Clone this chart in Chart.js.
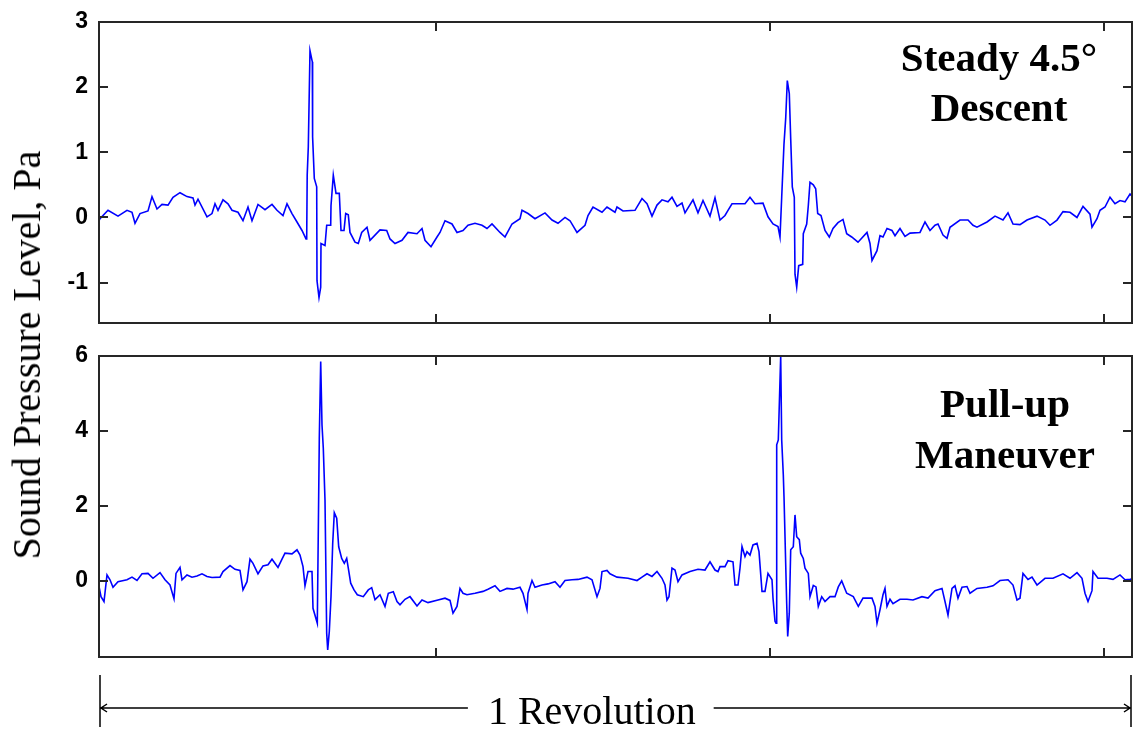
<!DOCTYPE html>
<html>
<head>
<meta charset="utf-8">
<title>Sound pressure over one revolution</title>
<script src="https://cdn.jsdelivr.net/npm/chart.js@4.4.1/dist/chart.umd.min.js"></script>
<style>
  html, body { margin: 0; padding: 0; background: #fff; }
  #wrap { position: relative; width: 1135px; height: 729px; overflow: hidden; }
  #topChart { position: absolute; left: 0; top: 0; }
  #bottomChart { position: absolute; left: 0; top: 340px; }
  #yTitle {
    position: absolute; left: 27px; top: 355px;
    transform: translate(-50%, -50%) rotate(-90deg);
    font: 40px "Liberation Serif", "Times New Roman", serif;
    line-height: 1; white-space: nowrap; color: #000;
  }
</style>
</head>
<body>
<div id="wrap">
  <canvas id="topChart" width="1135" height="340"></canvas>
  <canvas id="bottomChart" width="1135" height="389"></canvas>
  <div id="yTitle">Sound Pressure Level, Pa</div>
</div>
<script>
// samples along one revolution (arbitrary sample units)
const descentX = [
  0, 1, 9, 19, 28, 33, 36, 41, 49, 53,
  58, 63, 69, 74, 81, 88, 94, 96, 99, 108,
  113, 116, 119, 124, 129, 133, 139, 144, 149, 153,
  159, 166, 173, 178, 184, 188, 193, 198, 203, 207,
  207.7, 208.2, 209.3, 211, 213.3, 213.6, 215.3, 217.7, 218, 220,
  221.7, 222, 226, 227.7, 231.7, 232, 234.3, 237, 240.3, 242,
  245, 246.7, 249.3, 251, 256, 259.3, 262.7, 268, 271, 281,
  287.7, 291, 296, 303, 309, 318, 323, 326, 332, 338,
  341, 346, 353, 358, 364, 369, 376, 383, 388, 393,
  401, 406, 413, 421, 423, 429, 436, 446, 453, 459,
  466, 471, 478, 486, 489, 494, 503, 508, 516, 518,
  524, 536, 543, 548, 553, 558, 563, 569, 573, 578,
  583, 586, 594, 599, 604, 611, 616, 621, 626, 629,
  633, 646, 651, 656, 664, 669, 674, 679, 681, 682.7,
  685, 686.7, 688.3, 690.3, 691.7, 693.3, 695.3, 696, 697.7, 699.7,
  703.7, 704.3, 707.7, 709.3, 711, 714.3, 716.7, 718.7, 722, 726,
  730.3, 734, 739, 744, 747.7, 752.7, 759, 768, 771, 773,
  778, 781, 784, 788, 793, 796, 801, 806, 811, 821,
  826, 831, 836, 839, 844, 848, 851, 861, 869, 874,
  878, 888, 896, 904, 909, 914, 921, 928, 938, 946,
  951, 958, 964, 971, 978, 984, 991, 993, 998, 1001,
  1006, 1011, 1016, 1021, 1026, 1031, 1033
];
const descentY = [
  -0.05, -0.02, 0.11, 0.02, 0.11, 0.08, -0.09, 0.06, 0.10, 0.32,
  0.13, 0.20, 0.19, 0.31, 0.38, 0.32, 0.30, 0.19, 0.28, 0.01,
  0.06, 0.21, 0.11, 0.27, 0.21, 0.11, 0.08, -0.05, 0.16, -0.05,
  0.20, 0.12, 0.20, 0.11, 0.03, 0.21, 0.06, -0.07, -0.20, -0.33,
  -0.30, 0.65, 1.08, 2.56, 2.39, 1.24, 0.60, 0.47, -0.97, -1.23,
  -1.07, -0.40, -0.43, -0.12, -0.12, 0.18, 0.65, 0.37, 0.37, -0.20,
  -0.20, 0.06, 0.04, -0.23, -0.38, -0.40, -0.23, -0.15, -0.35, -0.19,
  -0.20, -0.33, -0.40, -0.35, -0.23, -0.25, -0.17, -0.35, -0.45, -0.30,
  -0.23, -0.05, -0.10, -0.23, -0.20, -0.12, -0.09, -0.12, -0.17, -0.10,
  -0.23, -0.30, -0.10, -0.02, 0.11, 0.06, -0.02, 0.07, -0.04, -0.09,
  0.00, -0.05, -0.23, -0.12, 0.03, 0.16, 0.08, 0.16, 0.08, 0.16,
  0.10, 0.11, 0.29, 0.21, 0.02, 0.19, 0.27, 0.24, 0.31, 0.17,
  0.22, 0.07, 0.27, 0.07, 0.26, 0.02, 0.30, -0.04, 0.03, 0.11,
  0.21, 0.21, 0.31, 0.21, 0.22, 0.01, -0.10, -0.14, -0.30, 0.31,
  1.13, 1.52, 2.10, 1.90, 1.21, 0.47, 0.31, -0.87, -1.07, -0.74,
  -0.72, -0.25, -0.10, 0.18, 0.54, 0.50, 0.44, 0.06, 0.03, -0.20,
  -0.30, -0.17, -0.08, -0.03, -0.25, -0.30, -0.38, -0.23, -0.40, -0.66,
  -0.51, -0.28, -0.30, -0.17, -0.20, -0.28, -0.17, -0.29, -0.24, -0.23,
  -0.07, -0.20, -0.12, -0.10, -0.27, -0.32, -0.15, -0.04, -0.04, -0.12,
  -0.15, -0.07, 0.02, -0.04, 0.07, -0.10, -0.11, -0.04, 0.02, -0.04,
  -0.12, -0.04, 0.09, 0.08, 0.00, 0.17, 0.05, -0.15, -0.02, 0.11,
  0.16, 0.31, 0.21, 0.26, 0.24, 0.36, 0.33
];

const pullupX = [
  0, 2, 5, 8, 11, 14, 19, 28, 33, 38,
  43, 49, 54, 61, 66, 71, 75, 77, 81, 83,
  88, 93, 98, 103, 108, 113, 121, 124, 131, 136,
  141, 144, 148, 151, 154, 159, 164, 169, 173, 179,
  183, 186, 193, 198, 201, 204, 206, 209, 213, 214,
  218.3, 220.3, 221.7, 223, 224.3, 226, 227.7, 228.7, 230.3, 232,
  233.7, 235.3, 237.7, 239.7, 242.7, 245.3, 247.7, 249.3, 251.7, 255,
  258.3, 264.3, 269.3, 272.7, 276, 281, 286, 289.3, 294.3, 298,
  301, 306, 311, 318, 323, 329, 339, 346, 351, 354,
  358, 361, 364, 368, 376, 384, 389, 396, 401, 408,
  414, 421, 424, 428, 429, 433, 436, 443, 449, 456,
  461, 466, 473, 479, 488, 493, 498, 501, 503, 508,
  511, 518, 529, 538, 543, 548, 553, 558, 563, 566,
  568, 570, 573, 576, 579, 583, 591, 599, 606, 611,
  616, 619, 621, 626, 629, 634, 636, 639, 641, 643,
  646, 648, 651, 654, 658, 660, 663, 666, 669, 673,
  674, 676, 677, 677.7, 679.3, 681.7, 682.7, 684.3, 685, 687.7,
  688.7, 690.3, 691.7, 694.3, 696, 697.7, 700.3, 701.7, 704.3, 706,
  709.3, 711, 714.3, 717, 719.3, 722.7, 726, 731, 736, 739.3,
  742.7, 747.7, 754.3, 759.3, 764, 773, 776, 778, 781, 784,
  786, 788, 791, 794, 801, 808, 814, 823, 829, 836,
  843, 846, 849, 853, 856, 859, 863, 868, 871, 878,
  888, 894, 901, 909, 914, 918, 921, 924, 929, 933,
  938, 946, 954, 964, 971, 978, 983, 986, 989, 993,
  994, 999, 1008, 1014, 1021, 1026, 1031, 1033
];
const pullupY = [
  -0.15, -0.42, -0.55, 0.16, 0.03, -0.17, -0.02, 0.03, 0.10, 0.01,
  0.19, 0.20, 0.07, 0.22, 0.03, -0.11, -0.48, 0.20, 0.36, 0.03,
  0.16, 0.10, 0.13, 0.19, 0.12, 0.09, 0.10, 0.25, 0.41, 0.31,
  0.28, -0.24, -0.02, 0.58, 0.47, 0.19, 0.40, 0.43, 0.58, 0.36,
  0.58, 0.74, 0.72, 0.83, 0.69, 0.38, -0.13, 0.25, 0.25, -0.73,
  -1.13, 3.80, 5.85, 4.16, 3.54, 2.16, -1.40, -1.84, -1.35, -0.42,
  1.00, 1.82, 1.67, 0.91, 0.60, 0.47, 0.60, 0.34, -0.06, -0.24,
  -0.37, -0.42, -0.24, -0.18, -0.50, -0.37, -0.68, -0.33, -0.29, -0.55,
  -0.64, -0.49, -0.42, -0.67, -0.51, -0.58, -0.51, -0.46, -0.52, -0.86,
  -0.68, -0.20, -0.33, -0.37, -0.33, -0.28, -0.22, -0.13, -0.28, -0.20,
  -0.22, -0.17, -0.33, -0.76, -0.33, 0.01, -0.17, -0.11, -0.08, -0.02,
  -0.17, 0.01, 0.03, 0.04, 0.10, 0.03, -0.42, -0.20, 0.25, 0.28,
  0.19, 0.10, 0.07, 0.01, 0.10, 0.19, 0.12, 0.25, 0.07, -0.11,
  -0.51, -0.42, 0.34, 0.29, -0.02, 0.16, 0.25, 0.31, 0.29, 0.51,
  0.29, 0.25, 0.38, 0.38, 0.54, 0.51, -0.11, -0.11, 0.34, 0.92,
  0.65, 0.78, 0.69, 0.96, 1.00, 0.78, -0.28, -0.28, 0.20, 0.03,
  -0.46, -1.08, -1.13, 3.63, 3.76, 6.00, 3.76, 2.83, 2.25, -0.60,
  -1.48, -0.86, 0.83, 0.91, 1.76, 1.18, 1.10, 0.74, 0.60, 0.34,
  0.20, -0.42, -0.12, -0.16, -0.68, -0.42, -0.55, -0.42, -0.42, -0.16,
  0.00, -0.33, -0.42, -0.68, -0.46, -0.46, -0.68, -1.13, -0.77, -0.37,
  -0.20, -0.68, -0.49, -0.61, -0.49, -0.49, -0.51, -0.42, -0.46, -0.26,
  -0.20, -0.55, -0.91, -0.20, -0.13, -0.46, -0.17, -0.15, -0.33, -0.20,
  -0.17, -0.13, 0.01, 0.03, -0.11, -0.51, -0.46, 0.20, 0.04, 0.10,
  -0.11, 0.07, 0.07, 0.19, 0.07, 0.22, 0.07, -0.33, -0.55, -0.26,
  0.25, 0.07, 0.07, 0.04, 0.16, 0.03, 0.04, 0.05
];

const descentTicks = [-1, 0, 1, 2, 3];
const pullupTicks = [0, 2, 4, 6];
const revTicks = [337, 671, 1005];   // unlabeled x ticks
const descentCaption = ["Steady 4.5°", "Descent"];
const pullupCaption = ["Pull-up", "Maneuver"];
const spanText = "1 Revolution";

// matlab-style box with inward ticks
const boxTicks = {
  id: "boxTicks",
  afterDatasetsDraw(chart) {
    const { ctx, chartArea: a, scales: { x, y } } = chart;
    const len = 9;
    ctx.save();
    ctx.strokeStyle = "#262626";
    ctx.lineWidth = 2;
    ctx.strokeRect(a.left, a.top, a.right - a.left, a.bottom - a.top);
    ctx.beginPath();
    y.ticks.forEach(t => {
      const py = Math.round(y.getPixelForValue(t.value));
      ctx.moveTo(a.left, py); ctx.lineTo(a.left + len, py);
      ctx.moveTo(a.right, py); ctx.lineTo(a.right - len, py);
    });
    revTicks.forEach(v => {
      const px = Math.round(x.getPixelForValue(v));
      ctx.moveTo(px, a.bottom); ctx.lineTo(px, a.bottom - len);
      ctx.moveTo(px, a.top); ctx.lineTo(px, a.top + len);
    });
    ctx.stroke();
    ctx.restore();
  }
};

// two-line bold caption in the upper right of a panel
const caption = {
  id: "caption",
  afterDraw(chart, args, o) {
    if (!o.lines) return;
    const { ctx, chartArea: a } = chart;
    ctx.save();
    ctx.font = 'bold 41px "Liberation Serif", "Times New Roman", serif';
    ctx.fillStyle = "#000";
    ctx.textAlign = "center";
    ctx.textBaseline = "alphabetic";
    o.lines.forEach((s, i) => {
      ctx.fillText(s, a.right - o.dx, a.top + o.dy + i * o.gap);
    });
    ctx.restore();
  }
};

// dimension arrow under the lower panel
const spanArrow = {
  id: "spanArrow",
  afterDraw(chart, args, o) {
    if (!o.text) return;
    const { ctx, chartArea: a, scales: { x } } = chart;
    const x0 = Math.round(x.getPixelForValue(x.min)) + 1;
    const x1 = Math.round(x.getPixelForValue(x.max)) - 1;
    const yl = a.bottom + 51;
    ctx.save();
    ctx.font = '40px "Liberation Serif", "Times New Roman", serif';
    const w = ctx.measureText(o.text).width;
    const cx = x0 + 0.477 * (x1 - x0);
    ctx.strokeStyle = "#000";
    ctx.lineWidth = 1.5;
    ctx.beginPath();
    ctx.moveTo(x0, a.bottom + 18); ctx.lineTo(x0, a.bottom + 70);
    ctx.moveTo(x1, a.bottom + 18); ctx.lineTo(x1, a.bottom + 70);
    ctx.moveTo(x0, yl); ctx.lineTo(cx - w / 2 - 20, yl);
    ctx.moveTo(cx + w / 2 + 18, yl); ctx.lineTo(x1, yl);
    ctx.moveTo(x0 + 7, yl - 4); ctx.lineTo(x0 + 1, yl); ctx.lineTo(x0 + 7, yl + 4);
    ctx.moveTo(x1 - 7, yl - 4); ctx.lineTo(x1 - 1, yl); ctx.lineTo(x1 - 7, yl + 4);
    ctx.stroke();
    ctx.fillStyle = "#000";
    ctx.textAlign = "center";
    ctx.textBaseline = "alphabetic";
    ctx.fillText(o.text, cx, a.bottom + 67);
    ctx.restore();
  }
};

function toPoints(xs, ys) {
  const n = Math.min(xs.length, ys.length);
  const pts = [];
  for (let i = 0; i < n; i++) pts.push({ x: xs[i], y: ys[i] });
  return pts;
}

function makePanel(canvasId, xs, ys, yMin, yMax, yTicks, pad, plugins) {
  return new Chart(document.getElementById(canvasId), {
    type: "line",
    data: {
      datasets: [{
        data: toPoints(xs, ys),
        borderColor: "#0000ff",
        borderWidth: 1.6,
        pointRadius: 0,
        tension: 0,
        fill: false
      }]
    },
    options: {
      responsive: false,
      animation: false,
      devicePixelRatio: 1,
      layout: { padding: pad },
      plugins: Object.assign({ legend: { display: false }, tooltip: { enabled: false } }, plugins),
      scales: {
        x: { type: "linear", min: 0, max: 1033, display: false },
        y: {
          min: yMin,
          max: yMax,
          afterBuildTicks: s => { s.ticks = yTicks.map(v => ({ value: v })); },
          afterFit: s => { s.width = 99; },
          // invisible tick marks only to push the labels off the box
          grid: { display: true, drawOnChartArea: false, drawTicks: true, tickLength: 11, tickColor: "rgba(0,0,0,0)", color: "rgba(0,0,0,0)" },
          border: { display: false },
          ticks: {
            color: "#000",
            padding: 0,
            font: { family: '"Liberation Sans", Arial, sans-serif', size: 23, weight: "bold" }
          }
        }
      }
    },
    plugins: [boxTicks, caption, spanArrow]
  });
}

makePanel("topChart", descentX, descentY, -1.62, 3, descentTicks,
  { top: 22, right: 3, bottom: 17, left: 0 },
  { caption: { lines: descentCaption, dx: 133, dy: 49, gap: 50 } });

makePanel("bottomChart", pullupX, pullupY, -2.03, 6, pullupTicks,
  { top: 16, right: 3, bottom: 72, left: 0 },
  { caption: { lines: pullupCaption, dx: 127, dy: 61, gap: 51 },
    spanArrow: { text: spanText } });
</script>
</body>
</html>
